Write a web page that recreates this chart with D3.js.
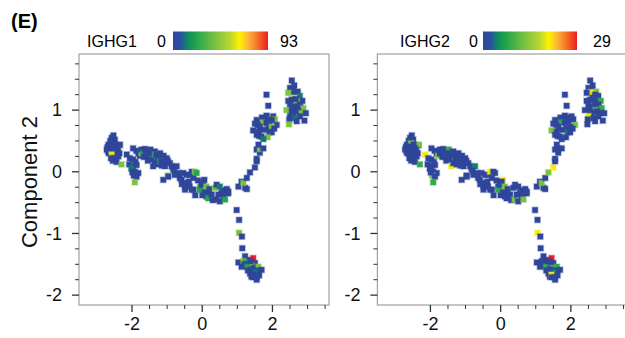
<!DOCTYPE html>
<html>
<head>
<meta charset="utf-8">
<script src="https://cdn.jsdelivr.net/npm/d3@7"></script>
<style>
  body { margin: 0; background: #fff; }
  svg { display: block; font-family: Arial, "Liberation Sans", sans-serif; }
</style>
</head>
<body>
<svg id="chart" width="625" height="338"></svg>
<script>
// cells: [component1, component2, IGHG1, IGHG2]
const leftCluster = [
  [-2.53, 0.59, 0, 0], [-2.58, 0.55, 0, 0], [-2.49, 0.52, 0, 0], [-2.62, 0.50, 0, 0],
  [-2.67, 0.44, 0, 0], [-2.55, 0.46, 0, 13], [-2.70, 0.40, 0, 0], [-2.63, 0.38, 0, 0],
  [-2.72, 0.36, 0, 0], [-2.34, 0.43, 42, 0], [-2.35, 0.44, 0, 13], [-2.44, 0.38, 0, 0],
  [-2.48, 0.44, 0, 0], [-2.58, 0.41, 0, 0], [-2.68, 0.33, 0, 0], [-2.46, 0.28, 0, 0],
  [-2.40, 0.34, 0, 0], [-2.52, 0.32, 0, 0], [-2.66, 0.30, 0, 0], [-2.36, 0.30, 0, 0],
  [-2.58, 0.28, 62, 0], [-2.49, 0.22, 0, 0], [-2.39, 0.25, 0, 0], [-2.60, 0.22, 0, 0],
  [-2.55, 0.18, 0, 0], [-2.44, 0.16, 0, 0], [-2.30, 0.12, 42, 8]
];

const dipCluster = [
  [-2.15, 0.28, 0, 20], [-2.06, 0.22, 0, 0], [-2.08, 0.12, 0, 0], [-1.97, 0.20, 0, 0],
  [-1.97, 0.09, 12, 0], [-1.87, 0.11, 0, 0], [-2.02, 0.05, 12, 0], [-1.92, 0.00, 0, 0],
  [-1.90, 0.16, 0, 0], [-1.82, -0.02, 0, 0], [-1.95, -0.06, 0, 13], [-1.87, -0.08, 0, 0],
  [-1.99, -0.01, 0, 0], [-1.92, -0.17, 42, 8]
];

const upperBand = [
  [-1.97, 0.38, 0, 0], [-1.88, 0.34, 0, 0], [-1.82, 0.30, 0, 0], [-1.78, 0.26, 0, 13],
  [-1.73, 0.30, 42, 0], [-1.73, 0.36, 0, 0], [-1.68, 0.30, 23, 0], [-1.66, 0.24, 0, 0],
  [-1.63, 0.37, 0, 0], [-1.58, 0.32, 0, 0], [-1.55, 0.18, 0, 0], [-1.54, 0.25, 0, 0],
  [-1.48, 0.36, 0, 8], [-1.44, 0.29, 42, 0], [-1.45, 0.20, 0, 0], [-1.40, 0.09, 0, 20],
  [-1.50, 0.30, 0, 0], [-1.60, 0.28, 0, 0], [-1.28, 0.20, 0, 0], [-1.08, 0.16, 0, 0],
  [-1.35, 0.33, 0, 0], [-1.35, 0.28, 23, 0], [-1.35, 0.14, 0, 0], [-1.30, 0.28, 0, 0],
  [-1.25, 0.22, 0, 0], [-1.25, 0.12, 0, 0], [-1.20, 0.30, 0, 0], [-1.20, 0.17, 23, 0],
  [-1.16, 0.17, 0, 0], [-1.15, 0.10, 0, 0], [-1.10, 0.26, 0, 0], [-1.06, 0.09, 0, 0],
  [-1.01, 0.22, 0, 0], [-0.98, 0.18, 0, 0], [-0.92, 0.14, 0, 0], [-0.87, 0.09, 0, 0],
  [-0.83, 0.05, 0, 0], [-0.73, 0.09, 0, 4]
];

const lowerBand = [
  [-1.11, -0.13, 0, 0], [-0.97, -0.06, 42, 0], [-0.97, -0.08, 0, 0], [-0.80, 0.02, 0, 0],
  [-0.78, -0.05, 0, 0], [-0.68, -0.02, 0, 0], [-0.64, -0.10, 0, 0], [-0.59, -0.13, 0, 0],
  [-0.54, -0.02, 0, 0], [-0.44, -0.05, 0, 0], [-0.44, -0.18, 0, 0], [-0.49, -0.24, 0, 0],
  [-0.49, -0.29, 0, 0], [-0.38, -0.16, 0, 0], [-0.35, -0.05, 0, 0], [-0.30, -0.29, 0, 0],
  [-0.30, 0.00, 0, 20], [-0.25, -0.10, 0, 0], [-0.21, 0.00, 42, 0], [-0.25, -0.29, 0, 0],
  [-0.20, -0.38, 0, 0], [-0.16, -0.02, 23, 0], [-0.12, -0.14, 0, 0], [-0.07, -0.24, 42, 0],
  [-0.07, -0.29, 23, 8], [-0.02, -0.21, 0, 0], [0.06, -0.13, 0, 20], [0.03, -0.16, 0, 0],
  [-0.58, -0.20, 0, 0], [-0.36, -0.24, 0, 0], [0.18, -0.33, 0, 0], [0.62, -0.30, 0, 0],
  [0.00, -0.38, 0, 0], [0.08, -0.32, 0, 0], [0.12, -0.24, 42, 13], [0.08, -0.35, 0, 0],
  [0.12, -0.40, 0, 0], [0.17, -0.43, 23, 0], [0.20, -0.28, 0, 0], [0.27, -0.37, 0, 0],
  [0.30, -0.46, 0, 0], [0.36, -0.26, 42, 0], [0.41, -0.21, 0, 0], [0.40, -0.45, 0, 13],
  [0.46, -0.37, 0, 0], [0.50, -0.24, 12, 0], [0.50, -0.48, 0, 0], [0.55, -0.33, 0, 0],
  [0.60, -0.40, 0, 0], [0.65, -0.45, 23, 13], [0.70, -0.28, 0, 0], [0.74, -0.35, 0, 0]
];

const riseArm = [
  [0.74, -0.32, 0, 0], [1.03, -0.24, 0, 0], [1.22, -0.26, 0, 0], [1.27, -0.28, 0, 0],
  [1.12, -0.16, 0, 0], [1.17, -0.18, 42, 13], [1.27, -0.10, 0, 0], [1.36, -0.01, 0, 13],
  [1.50, 0.07, 0, 20], [1.55, 0.17, 0, 0], [1.55, 0.21, 0, 0], [1.64, 0.31, 0, 0],
  [1.55, 0.36, 0, 0], [1.64, 0.37, 42, 0], [1.74, 0.38, 0, 0], [1.60, 0.44, 0, 0]
];

const upperArm = [
  [1.83, 1.25, 0, 0], [1.88, 1.07, 0, 0], [1.96, 0.88, 62, 0], [1.83, 0.91, 0, 0],
  [2.02, 0.90, 0, 0], [2.07, 0.85, 42, 0], [1.98, 0.84, 0, 0], [1.78, 0.85, 0, 0],
  [1.70, 0.88, 0, 0], [1.69, 0.80, 42, 8], [1.55, 0.84, 0, 0], [1.83, 0.79, 0, 0],
  [1.92, 0.82, 0, 0], [1.58, 0.76, 0, 0], [1.88, 0.70, 0, 0],
  [2.12, 0.76, 0, 13], [1.50, 0.78, 0, 0], [1.64, 0.73, 0, 0], [1.98, 0.73, 42, 0],
  [2.05, 0.70, 0, 0], [1.75, 0.68, 0, 0], [1.45, 0.67, 0, 13], [1.60, 0.65, 0, 0],
  [1.91, 0.64, 0, 4], [1.98, 0.64, 0, 0], [1.55, 0.60, 0, 0], [1.62, 0.58, 0, 0],
  [1.69, 0.57, 0, 0], [1.86, 0.56, 42, 0], [1.74, 0.53, 12, 0]
];

const topCluster = [
  [2.55, 1.48, 0, 0], [2.50, 1.36, 0, 0], [2.59, 1.33, 0, 0], [2.72, 1.30, 0, 13],
  [2.56, 1.29, 0, 20], [2.45, 1.28, 42, 0], [2.69, 1.25, 0, 0], [2.78, 1.23, 12, 0],
  [2.62, 1.20, 62, 0], [2.55, 1.17, 0, 0], [2.45, 1.15, 0, 0], [2.85, 1.15, 0, 8],
  [2.69, 1.14, 42, 0], [2.50, 1.09, 0, 0], [2.78, 1.09, 0, 0], [2.64, 1.06, 0, 0],
  [2.62, 1.40, 0, 0], [2.66, 1.18, 0, 0], [2.80, 1.04, 0, 0], [2.52, 1.02, 0, 0],
  [2.58, 1.05, 0, 0], [2.88, 1.03, 42, 8], [2.40, 1.00, 42, 0], [2.70, 1.00, 0, 13],
  [2.55, 0.98, 0, 0], [2.74, 0.98, 0, 0], [2.60, 0.95, 0, 0], [2.83, 0.95, 42, 0],
  [2.95, 0.95, 0, 0], [2.50, 0.90, 0, 20], [2.78, 0.90, 0, 0], [2.64, 0.87, 12, 0],
  [2.48, 0.85, 0, 0], [2.91, 0.83, 0, 0], [2.69, 0.82, 0, 0], [2.47, 0.77, 42, 0]
];

const descent = [
  [0.98, -0.62, 0, 0], [1.05, -0.78, 0, 0], [1.05, -0.99, 42, 20], [1.13, -1.05, 0, 0],
  [1.14, -1.24, 0, 0]
];

const bottomCluster = [
  [1.22, -1.37, 0, 0], [1.31, -1.43, 0, 0], [1.03, -1.47, 0, 0], [1.17, -1.45, 42, 0],
  [1.25, -1.47, 23, 0], [1.45, -1.40, 93, 29], [1.20, -1.50, 0, 0], [1.35, -1.50, 0, 0],
  [1.50, -1.48, 0, 0], [1.40, -1.52, 42, 0], [1.27, -1.54, 23, 8], [1.12, -1.54, 0, 0],
  [1.48, -1.56, 0, 13], [1.60, -1.54, 42, 8], [1.41, -1.58, 0, 0], [1.30, -1.60, 0, 0],
  [1.38, -1.45, 0, 0], [1.52, -1.60, 0, 0], [1.40, -1.70, 0, 0],
  [1.69, -1.59, 0, 0], [1.60, -1.62, 0, 0], [1.50, -1.63, 12, 4], [1.36, -1.65, 0, 0],
  [1.45, -1.67, 0, 20], [1.62, -1.68, 0, 0], [1.45, -1.71, 0, 0], [1.55, -1.71, 0, 0],
  [1.55, -1.75, 0, 0]
];

const cells = [].concat(leftCluster, dipCluster, upperBand, lowerBand, riseArm,
  upperArm, topCluster, descent, bottomCluster);

const genes = [
  { name: 'IGHG1', col: 2, max: 93 },
  { name: 'IGHG2', col: 3, max: 29 }
];

const xMajor = [-2, 0, 2];
const xMinor = [-1.5, -1, -0.5, 0.5, 1, 1.5, 2.5, 3, 3.5];
const yMajor = [1, 0, -1, -2];
const yMinor = [1.75, 1.5, 1.25, 0.75, 0.5, 0.25, -0.25, -0.5, -0.75, -1.25, -1.5, -1.75];

// colour ramp of the bar (fraction of max)
const rampStops = [0, 0.08, 0.16, 0.27, 0.45, 0.6, 0.7, 0.8, 0.9, 1];
const rampColors = ['#2f469b', '#2a4fa2', '#0d8f5c', '#2ea94a', '#7dc242', '#b9d531',
  '#fff200', '#fbae3c', '#f36a22', '#ed1c24'];

const svg = d3.select('#chart');

const panelW = 250;
const panelH = 251;
const panelTop = 54;
const panelLefts = [79, 377.4];

const x = d3.scaleLinear().domain([-3.51, 3.61]).range([0, panelW]);
const y = d3.scaleLinear().domain([-2.16, 1.91]).range([panelH, 0]);

const defs = svg.append('defs');
const grad = defs.append('linearGradient').attr('id', 'ramp');
rampStops.forEach((s, i) => {
  grad.append('stop').attr('offset', s).attr('stop-color', rampColors[i]);
});

svg.append('text')
  .attr('x', 11).attr('y', 28)
  .attr('font-size', 20).attr('font-weight', 'bold')
  .text('(E)');

svg.append('text')
  .attr('transform', 'translate(37,182) rotate(-90)')
  .attr('text-anchor', 'middle')
  .attr('font-size', 22)
  .attr('fill', '#111')
  .text('Component 2');

const legends = [
  { label: 87, zero: 157, bar: [173, 268], maxX: 280 },
  { label: 400, zero: 469, bar: [483, 577], maxX: 593 }
];

genes.forEach((gene, gi) => {
  const left = panelLefts[gi];
  const color = d3.scaleLinear()
    .domain(rampStops.map(s => s * gene.max))
    .range(rampColors)
    .clamp(true);

  // legend
  const lg = legends[gi];
  svg.append('text').attr('x', lg.label).attr('y', 47).attr('font-size', 16).text(gene.name);
  svg.append('text').attr('x', lg.zero).attr('y', 47).attr('font-size', 16).text('0');
  svg.append('rect')
    .attr('x', lg.bar[0]).attr('y', 31.5)
    .attr('width', lg.bar[1] - lg.bar[0]).attr('height', 18.5)
    .attr('fill', 'url(#ramp)');
  svg.append('text').attr('x', lg.maxX).attr('y', 47).attr('font-size', 16).text(gene.max);

  const g = svg.append('g').attr('transform', `translate(${left},${panelTop})`);

  // frame
  g.append('rect')
    .attr('x', 0).attr('y', 0)
    .attr('width', panelW).attr('height', panelH)
    .attr('fill', 'none')
    .attr('stroke', '#a0a0a0')
    .attr('stroke-width', 1.2);

  // ticks
  const tickCol = '#333';
  g.selectAll('.xmaj').data(xMajor).enter().append('line')
    .attr('x1', d => x(d)).attr('x2', d => x(d))
    .attr('y1', panelH).attr('y2', panelH + 7)
    .attr('stroke', tickCol).attr('stroke-width', 1.3);
  g.selectAll('.xmin').data(xMinor).enter().append('line')
    .attr('x1', d => x(d)).attr('x2', d => x(d))
    .attr('y1', panelH).attr('y2', panelH + 4)
    .attr('stroke', tickCol).attr('stroke-width', 1);
  g.selectAll('.ymaj').data(yMajor).enter().append('line')
    .attr('y1', d => y(d)).attr('y2', d => y(d))
    .attr('x1', 0).attr('x2', -7)
    .attr('stroke', tickCol).attr('stroke-width', 1.3);
  g.selectAll('.ymin').data(yMinor).enter().append('line')
    .attr('y1', d => y(d)).attr('y2', d => y(d))
    .attr('x1', 0).attr('x2', -4)
    .attr('stroke', tickCol).attr('stroke-width', 1);

  g.selectAll('.xlab').data(xMajor).enter().append('text')
    .attr('x', d => x(d)).attr('y', panelH + 25)
    .attr('text-anchor', 'middle')
    .attr('font-size', 18).attr('fill', '#111')
    .text(d => d);
  g.selectAll('.ylab').data(yMajor).enter().append('text')
    .attr('x', -17).attr('y', d => y(d))
    .attr('dy', '0.35em')
    .attr('text-anchor', 'end')
    .attr('font-size', 18).attr('fill', '#111')
    .text(d => d);

  // cells
  const s = 5.5;
  g.selectAll('.cell').data(cells).enter().append('rect')
    .attr('x', d => x(d[0]) - s / 2)
    .attr('y', d => y(d[1]) - s / 2)
    .attr('width', s).attr('height', s)
    .attr('fill', d => color(d[gene.col]))
    .attr('stroke', d => color(d[gene.col]))
    .attr('stroke-opacity', 0.3)
    .attr('stroke-width', 1.6);
});
</script>
</body>
</html>
